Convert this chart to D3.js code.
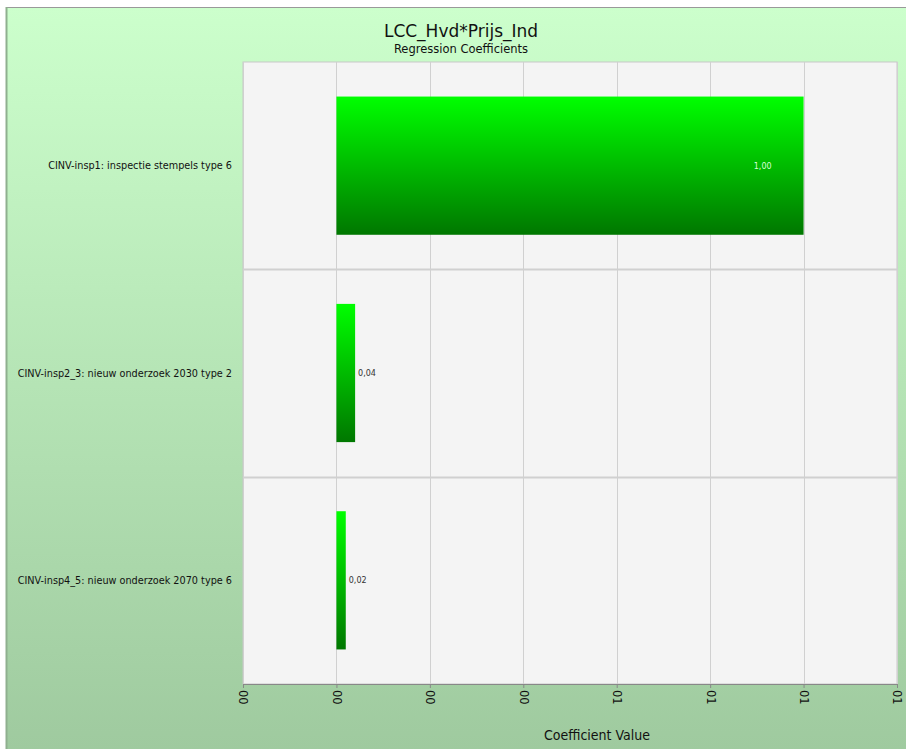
<!DOCTYPE html>
<html><head><meta charset="utf-8">
<script src="https://cdn.jsdelivr.net/npm/d3@7"></script>
<style>html,body{margin:0;padding:0;background:#fff;overflow:hidden;}svg{display:block;}</style>
</head><body>
<script>
const categories = [
  "CINV-insp1: inspectie stempels type 6",
  "CINV-insp2_3: nieuw onderzoek 2030 type 2",
  "CINV-insp4_5: nieuw onderzoek 2070 type 6"
];
const values = [1.00, 0.04, 0.02];
const valueLabels = ["1,00", "0,04", "0,02"];
const tickValues = [-0.2, 0, 0.2, 0.4, 0.6, 0.8, 1.0, 1.2];
const tickLabels = ["00", "00", "00", "00", "01", "01", "01", "01"];
const title = "LCC_Hvd*Prijs_Ind";
const subtitle = "Regression Coefficients";
const xTitle = "Coefficient Value";

const W = 906, H = 749;
const svg = d3.select("body").append("svg").attr("width", W).attr("height", H);
const defs = svg.append("defs");
const bg = defs.append("linearGradient").attr("id","bg").attr("x1",0).attr("y1",0).attr("x2",0).attr("y2",1);
bg.append("stop").attr("offset","0%").attr("stop-color","#ccffcc");
bg.append("stop").attr("offset","100%").attr("stop-color","#9fca9f");
const bar = defs.append("linearGradient").attr("id","bar").attr("x1",0).attr("y1",0).attr("x2",0).attr("y2",1);
bar.append("stop").attr("offset","0%").attr("stop-color","#00ff00");
bar.append("stop").attr("offset","100%").attr("stop-color","#007700");

svg.append("rect").attr("x",7).attr("y",7).attr("width",W-7).attr("height",H-7).attr("fill","url(#bg)");
svg.append("line").attr("x1",6.5).attr("x2",W).attr("y1",7.5).attr("y2",7.5).attr("stroke","#999").attr("stroke-width",1);
svg.append("line").attr("x1",6.5).attr("x2",6.5).attr("y1",7).attr("y2",H).attr("stroke","#8fb08f").attr("stroke-width",2);

const m = {left:243, right:897, top:62, bottom:684};
const x = d3.scaleLinear().domain([-0.2, 1.2]).range([m.left, m.right]);
const y = d3.scaleBand().domain(categories).range([m.top, m.bottom]).paddingInner(1/3).paddingOuter(1/6);
const step = y.step();

svg.append("rect").attr("x",m.left).attr("y",m.top).attr("width",m.right-m.left).attr("height",m.bottom-m.top)
  .attr("fill","#f4f4f4").attr("stroke","#c8c8c8");

svg.append("g").selectAll("line").data(tickValues).join("line")
  .attr("x1",d=>Math.round(x(d))+0.5).attr("x2",d=>Math.round(x(d))+0.5)
  .attr("y1",m.top).attr("y2",m.bottom).attr("stroke","#d0d0d0");
svg.append("g").selectAll("line").data(categories.slice(1)).join("line")
  .attr("x1",m.left).attr("x2",m.right)
  .attr("y1",(d,i)=>Math.round(m.top + step*(i+1))+0.5).attr("y2",(d,i)=>Math.round(m.top + step*(i+1))+0.5)
  .attr("stroke","#d0d0d0").attr("stroke-width",2);

svg.append("g").selectAll("rect").data(values).join("rect")
  .attr("x",d=>x(Math.min(0,d))).attr("y",(d,i)=>y(categories[i]))
  .attr("width",d=>Math.abs(x(d)-x(0))).attr("height",y.bandwidth())
  .attr("fill","url(#bar)");

svg.append("g").selectAll("text").data(values).join("text")
  .attr("x",d=> d > 0.5 ? x(d)-32 : x(d)+3)
  .attr("y",(d,i)=>y(categories[i])+y.bandwidth()/2+3)
  .attr("text-anchor",d=> d > 0.5 ? "end" : "start")
  .attr("font-family","DejaVu Sans, Verdana, sans-serif").attr("font-size",8)
  .attr("fill",d=> d > 0.5 ? "#d8ffd8" : "#333")
  .text((d,i)=>valueLabels[i]);

svg.append("g").selectAll("text").data(categories).join("text")
  .attr("x",232).attr("y",d=>y(d)+y.bandwidth()/2+3.5)
  .attr("text-anchor","end")
  .attr("font-family","DejaVu Sans, sans-serif").attr("font-size",9.7)
  .attr("fill","#111").text(d=>d);

const ax = d3.axisBottom(x).tickValues(tickValues).tickSize(4).tickFormat((d,i)=>tickLabels[i]);
const gx = svg.append("g").attr("transform",`translate(0,${m.bottom})`).call(ax);
gx.select(".domain").attr("stroke","#888");
gx.selectAll(".tick line").attr("stroke","#888");
gx.selectAll(".tick text")
  .attr("font-family","DejaVu Sans, sans-serif").attr("font-size",11.5).attr("fill","#111")
  .attr("transform","rotate(90)").attr("x",6).attr("y",0).attr("dy","0.35em").attr("text-anchor","start");

svg.append("text").attr("x",597).attr("y",740).attr("text-anchor","middle")
  .attr("font-family","DejaVu Sans Condensed, DejaVu Sans, sans-serif").attr("font-size",14).attr("fill","#111").text(xTitle);

svg.append("text").attr("x",461).attr("y",37).attr("text-anchor","middle")
  .attr("font-family","DejaVu Sans, sans-serif").attr("font-size",17).attr("fill","#111").text(title);
svg.append("text").attr("x",461).attr("y",53).attr("text-anchor","middle")
  .attr("font-family","DejaVu Sans, sans-serif").attr("font-size",11.5).attr("fill","#111").text(subtitle);
</script>
</body></html>
